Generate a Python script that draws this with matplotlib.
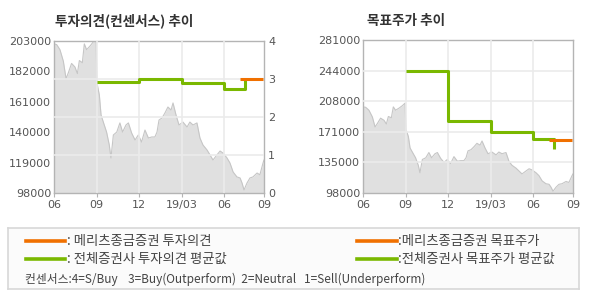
import numpy as np
import matplotlib
matplotlib.use("Agg")
import matplotlib.pyplot as plt
from matplotlib.lines import Line2D

plt.rcParams['font.family'] = ['DejaVu Sans', 'Noto Sans CJK KR']
KR = ['Noto Sans CJK KR', 'DejaVu Sans']

# x positions in months from 2018/06
month_ticks = [0, 3, 6, 9, 12, 14.82]
month_labels = ['06', '09', '12', '19/03', '06', '09']

price_x = [0, 0.19, 0.42, 0.66, 0.85, 1.01, 1.24, 1.48, 1.65, 1.79, 2.0, 2.14, 2.3, 2.54,
           2.78, 2.97, 3.03, 3.2, 3.32, 3.48, 3.71, 3.9, 4.02, 4.19, 4.43, 4.65, 4.84,
           5.08, 5.25, 5.48, 5.72, 5.95, 6.18, 6.42, 6.66, 6.9, 7.12, 7.27, 7.41, 7.62,
           7.83, 8.04, 8.26, 8.4, 8.61, 8.82, 9.1, 9.39, 9.59, 9.81, 10.09, 10.3, 10.51,
           10.8, 11.01, 11.22, 11.5, 11.72, 11.93, 12.21, 12.42, 12.64, 12.91, 13.13,
           13.27, 13.41, 13.62, 13.83, 14.04, 14.33, 14.53, 14.75, 14.82]
price = [201000, 200500, 197000, 189000, 177000, 181000, 187500, 185000, 180500, 189500,
         188000, 201000, 197000, 199500, 202500, 205500, 174000, 165700, 151900, 147000,
         140100, 131200, 122200, 138100, 140100, 146400, 140100, 145000, 146400, 139400,
         134600, 138100, 133200, 141500, 136000, 136700, 136700, 140100, 148400, 149800,
         153300, 157400, 155300, 160200, 151900, 145000, 147000, 143600, 147000, 145000,
         146400, 136000, 131200, 127700, 124300, 120800, 124300, 127000, 125600, 122200,
         118700, 112500, 109100, 108400, 104900, 100100, 104900, 108400, 109100, 111800,
         110600, 118700, 120800]

# consensus opinion (right axis of left chart)
cons_all_x = [3.0, 6.0, 9.0, 12.0, 13.48, 13.48]
cons_all = [2.92, 3.0, 2.89, 2.745, 2.745, 3.0]
cons_meritz_x = [13.13, 14.77]
cons_meritz = [3.0, 3.0]

# target price
tp_all_x = [3.0, 6.0, 9.0, 12.0, 13.48, 13.48]
tp_all = [244000, 184000, 170600, 162600, 162600, 150600]
tp_meritz_x = [13.13, 14.75]
tp_meritz = [161400, 161400]

left_ticks = [98000, 119000, 140000, 161000, 182000, 203000]
right_ticks = [98000, 135000, 171000, 208000, 244000, 281000]

GREEN = '#7ab800'
ORANGE = '#f07000'
GRID = '#ebebeb'
SPINE = '#b4b4b4'
TXT = '#555555'

fig = plt.figure(figsize=(5.9, 3.0), dpi=100)


def style_axis(ax):
    for s in ax.spines.values():
        s.set_color(SPINE)
        s.set_linewidth(1.0)
    ax.set_xlim(0, 14.82)
    ax.set_xticks(month_ticks)
    ax.set_xticklabels(month_labels)
    ax.tick_params(axis='x', colors=SPINE, labelcolor=TXT, labelsize=8, length=3, pad=2)
    ax.tick_params(axis='y', length=0, labelcolor=TXT, labelsize=8, pad=2)
    for x in month_ticks[1:-1]:
        ax.axvline(x, color=GRID, lw=1.2, zorder=3)


def draw_price(ax, lo, hi):
    ax.fill_between(price_x, price, lo, color='#e0e0e0', lw=0, zorder=1)
    ax.plot(price_x, price, color='#c6c6c6', lw=0.8, zorder=2)
    ax.set_ylim(lo, hi)


# left chart
ax1 = fig.add_axes([54 / 590, 1 - 193 / 300, 210 / 590, 152 / 300])
style_axis(ax1)
draw_price(ax1, 98000, 203000)
ax1.set_yticks(left_ticks)
ax1.set_yticklabels([str(v) for v in left_ticks])
ax1b = ax1.twinx()
ax1b.set_ylim(0, 4)
ax1b.set_yticks([0, 1, 2, 3, 4])
ax1b.tick_params(axis='y', length=0, labelcolor=TXT, labelsize=8, pad=3)
for s in ax1b.spines.values():
    s.set_visible(False)
ax1.set_zorder(ax1b.get_zorder() + 1)
ax1.patch.set_visible(False)
ax1b.patch.set_facecolor('white')
# gridlines follow the opinion scale (1, 2, 3)
for v in [1, 2, 3]:
    ax1.axhline(98000 + v * (203000 - 98000) / 4, color=GRID, lw=1.2, zorder=3)
ax1.step(cons_all_x, cons_all, where='post', color=GREEN, lw=2.2, zorder=5,
         transform=ax1b.transData, solid_capstyle='butt')
ax1.plot(cons_meritz_x, cons_meritz, color=ORANGE, lw=2.2, zorder=6,
         transform=ax1b.transData, solid_capstyle='butt')
fig.text(55 / 590, 1 - 21 / 300, '투자의견(컨센서스) 추이', family=KR, fontsize=9.8,
         fontweight='bold', color='#333333', va='center')

# right chart
ax2 = fig.add_axes([363 / 590, 1 - 193 / 300, 210 / 590, 153 / 300])
style_axis(ax2)
draw_price(ax2, 98000, 281000)
ax2.set_yticks(np.linspace(98000, 281000, 6))
ax2.set_yticklabels([str(v) for v in right_ticks])
for v in np.linspace(98000, 281000, 6)[1:-1]:
    ax2.axhline(v, color=GRID, lw=1.2, zorder=3)
ax2.step(tp_all_x, tp_all, where='post', color=GREEN, lw=2.2, zorder=5,
         solid_capstyle='butt')
ax2.plot(tp_meritz_x, tp_meritz, color=ORANGE, lw=2.2, zorder=6, solid_capstyle='butt')
fig.text(367 / 590, 1 - 21 / 300, '목표주가 추이', family=KR, fontsize=9.8,
         fontweight='bold', color='#333333', va='center')

# legend box
lg = fig.add_axes([8 / 590, 1 - 289 / 300, 571 / 590, 61 / 300])
lg.set_xlim(0, 571)
lg.set_ylim(61, 0)
lg.set_xticks([])
lg.set_yticks([])
lg.set_facecolor('#fbfbfb')
for s in lg.spines.values():
    s.set_color('#d8d8d8')
    s.set_linewidth(1.2)

rows = [(ORANGE, ': 메리츠종금증권 투자의견', ':메리츠종금증권 목표주가', 12.5),
        (GREEN, ': 전체증권사 투자의견 평균값', ':전체증권사 목표주가 평균값', 31)]
for color, t1, t2, y in rows:
    lg.add_line(Line2D([18, 57], [y, y], color=color, lw=2.6))
    lg.text(59, y, t1, family=KR, fontsize=9.6, color='#444444', va='center')
    lg.add_line(Line2D([349, 389], [y, y], color=color, lw=2.6))
    lg.text(390, y, t2, family=KR, fontsize=9.6, color='#444444', va='center')
lg.text(17, 51, '컨센서스:4=S/Buy    3=Buy(Outperform)  2=Neutral   1=Sell(Underperform)',
        family=KR, fontsize=8.5, color='#444444', va='center')

fig.savefig('out.png', dpi=100)
